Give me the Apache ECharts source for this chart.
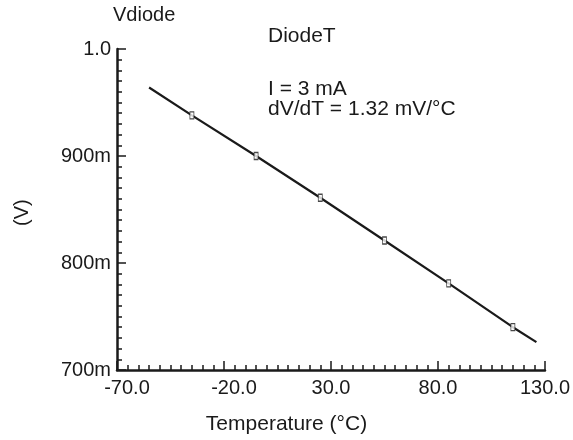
<!DOCTYPE html>
<html>
<head>
<meta charset="utf-8">
<script src="https://cdn.jsdelivr.net/npm/echarts@6/dist/echarts.min.js"></script>
<style>html,body{margin:0;padding:0;background:#fff}#c{width:573px;height:440px}</style>
</head>
<body>
<div id="c"></div>
<script>
// Data
var lineTemps = [-55, -35, -5, 25, 55, 85, 115, 126];
var lineVolts = [0.964, 0.938, 0.900, 0.861, 0.821, 0.781, 0.740, 0.726];
var markerTemps = [-35, -5, 25, 55, 85, 115];
var markerVolts = [0.938, 0.900, 0.861, 0.821, 0.781, 0.740];
var xMajorTicks = [-70, -20, 30, 80, 130];
var yTickLabels = {"1.0": "1.0", "0.9": "900m", "0.8": "800m", "0.7": "700m"};

var FONT = 'Liberation Sans, Arial, Helvetica, sans-serif';
var INK = '#1a1a1a';
var FS = 20;
var FT = 21;

var chart = echarts.init(document.getElementById('c'));
chart.setOption({
  animation: false,
  backgroundColor: '#fff',
  grid: {left: 117, right: 26, top: 49, bottom: 70, containLabel: false},
  graphic: [
    {type: 'text', left: 113, top: 5, style: {text: 'Vdiode', font: FS + 'px ' + FONT, fill: INK}},
    {type: 'text', left: 268, top: 26, style: {text: 'DiodeT', font: FT + 'px ' + FONT, fill: INK}},
    {type: 'text', left: 268, top: 79, style: {text: 'I = 3 mA', font: FT + 'px ' + FONT, fill: INK}},
    {type: 'text', left: 268, top: 99, style: {text: 'dV/dT = 1.32 mV/\u00B0C', font: FT + 'px ' + FONT, fill: INK}},
    {type: 'text', x: 12, y: 226, rotation: Math.PI / 2, style: {text: '(V)', font: FS + 'px ' + FONT, fill: INK}},
    {type: 'text', left: 'center', top: 414, style: {text: 'Temperature (\u00B0C)', font: FT + 'px ' + FONT, fill: INK}}
  ],
  xAxis: [
    {
      type: 'value', min: -70, max: 130, interval: 5,
      axisLine: {show: true, onZero: false, lineStyle: {color: INK, width: 2.5}},
      axisTick: {show: true, inside: true, length: 5, lineStyle: {color: INK, width: 1.5}},
      axisLabel: {
        show: true, color: INK, fontSize: FS, fontFamily: FONT, margin: 8,
        formatter: function (v) {
          var r = Math.round(v);
          if (xMajorTicks.indexOf(r) < 0) return '';
          return r < 0 ? '{n|' + v.toFixed(1) + '}' : v.toFixed(1);
        },
        rich: {n: {fontSize: FS, fontFamily: FONT, color: INK, padding: [0, 0, 0, 20]}}
      },
      splitLine: {show: false}
    },
    {
      type: 'value', min: -70, max: 130, position: 'bottom', gridIndex: 0,
      axisLine: {show: false, onZero: false},
      axisTick: {show: true, inside: true, length: 9, customValues: xMajorTicks, lineStyle: {color: INK, width: 1.5}},
      axisLabel: {show: false},
      splitLine: {show: false}
    }
  ],
  yAxis: {
    type: 'value', min: 0.7, max: 1.0, interval: 0.1,
    axisLine: {show: true, onZero: false, lineStyle: {color: INK, width: 2.5}},
    axisTick: {show: true, inside: true, length: 9, lineStyle: {color: INK, width: 1.5}},
    minorTick: {show: true, splitNumber: 10, length: 5, lineStyle: {color: INK, width: 1.5}},
    axisLabel: {
      color: INK, fontSize: FS, fontFamily: FONT, margin: 6, padding: [0, 0, 8, 0],
      formatter: function (v) { return yTickLabels[v.toFixed(1)] || ''; }
    },
    splitLine: {show: false}
  },
  series: [
    {
      type: 'line', xAxisIndex: 0,
      data: lineTemps.map(function (t, i) { return [t, lineVolts[i]]; }),
      showSymbol: false, symbol: 'none',
      lineStyle: {color: INK, width: 2.2},
      z: 2
    },
    {
      type: 'scatter', xAxisIndex: 0,
      data: markerTemps.map(function (t, i) { return [t, markerVolts[i]]; }),
      symbol: 'rect', symbolSize: [4, 7],
      itemStyle: {color: '#fff', borderColor: INK, borderWidth: 1},
      z: 3
    }
  ]
});
</script>
</body>
</html>
